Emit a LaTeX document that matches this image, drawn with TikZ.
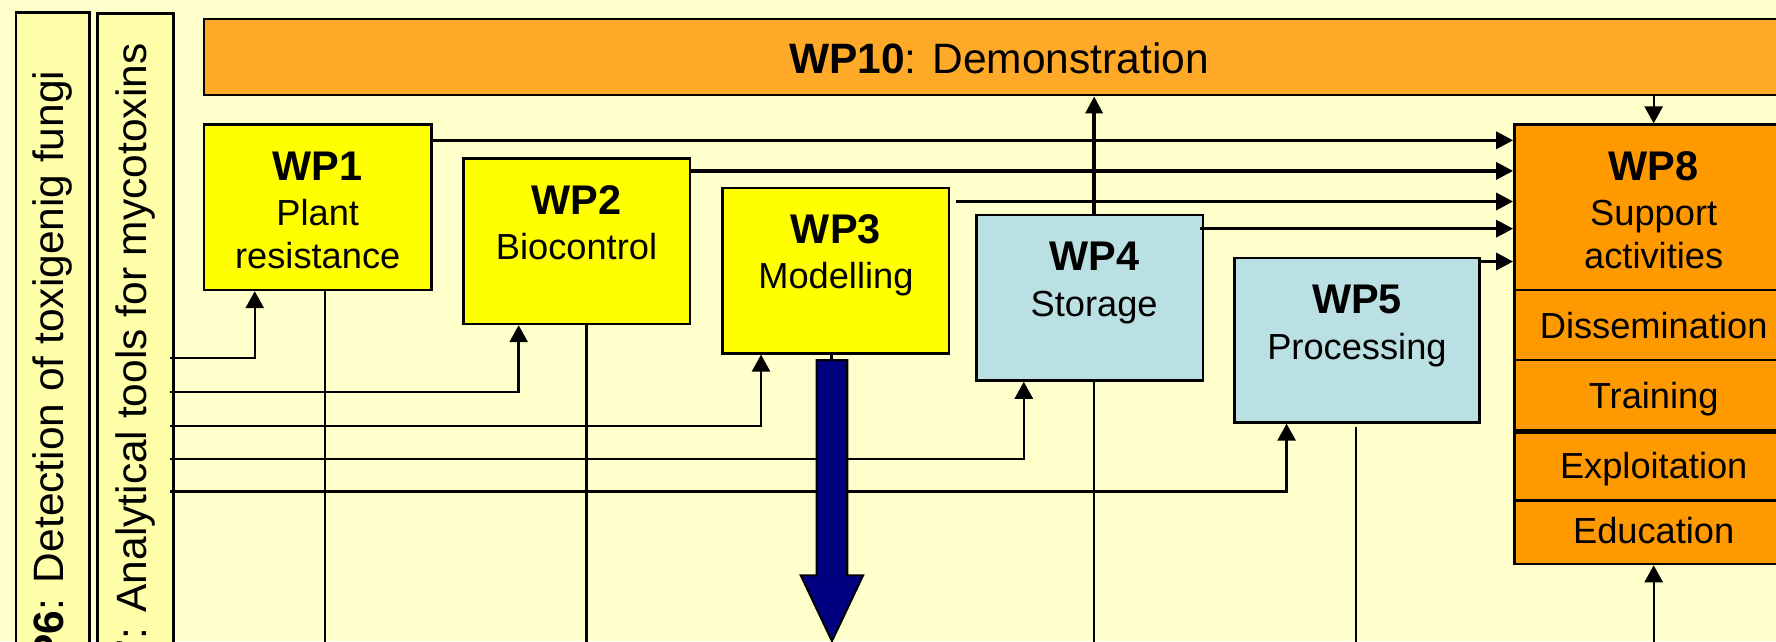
\documentclass[tikz,border=0pt]{standalone}
\usepackage{fontspec}
\setmainfont{Liberation Sans}
\usetikzlibrary{arrows.meta,calc,fit}
\definecolor{bg}{HTML}{FFFFCC}
\definecolor{colfill}{HTML}{FFFFAA}
\definecolor{barorange}{HTML}{FFA928}
\definecolor{wporange}{HTML}{FF9900}
\definecolor{wpyellow}{HTML}{FFFF00}
\definecolor{wpblue}{HTML}{BBE0E3}
\definecolor{navyblue}{HTML}{000080}
\begin{document}
\begin{tikzpicture}[x=0.5pt,y=-0.5pt,
  box/.style={draw=black, line width=1.1pt, inner sep=0pt},
  thinline/.style={draw=black, line width=1.05pt},
  arr/.style={thinline, -{Triangle[length=7.5pt,width=8pt]}},
  arrthick/.style={draw=black, line width=1.5pt, -{Triangle[length=7.5pt,width=7.5pt]}},
  t/.style={font=\fontsize{16}{19}\selectfont, inner sep=0pt, anchor=base},
  tb/.style={font=\fontsize{18.3}{22}\selectfont\bfseries, inner sep=0pt, anchor=base},
  big/.style={font=\fontsize{18.75}{22}\selectfont, inner sep=0pt},
  navyarrow/.style={fill=navyblue, draw=black, line width=0.9pt, line join=miter}]
\useasboundingbox (0,0) rectangle (1568,566);
\clip (0,0) rectangle (1568,566);
\fill[bg] (0,0) rectangle (1568,566);

% vertical columns
\node[box, fill=colfill, fit={(14,11) (79,620)}] (wp6) {};
\node[box, fill=colfill, fit={(86,12) (153,620)}] (wp7) {};
\node[big, rotate=90, anchor=east] (wp6t) at (46.5,62) {\textbf{WP6}: Detection of toxigenig fungi};
\node[big, rotate=90, anchor=east] (wp7t) at (119.5,38) {\textbf{WP7}: Analytical tools for mycotoxins};

% WP10 bar
\node[box, fill=barorange, fit={(180,17) (1620,84)}] (wp10) {};
\node[big, anchor=base] (wp10t) at (882,65) {\textbf{WP10}: Demonstration};

% WP boxes
\node[box, fill=wpyellow, fit={(180,110) (381,256)}] (wp1) {};
\node[box, fill=wpyellow, fit={(409,140) (609,286)}] (wp2) {};
\node[box, fill=wpyellow, fit={(638,166) (838,312)}] (wp3) {};
\node[box, fill=wpblue, fit={(862,190) (1062,336)}] (wp4) {};
\node[box, fill=wpblue, fit={(1090,228) (1306,373)}] (wp5) {};

\node[tb] (wp1a) at (280.5,159) {WP1};
\node[t]  (wp1b) at (280.5,199) {Plant};
\node[t]  (wp1c) at (280.5,237) {resistance};
\node[tb] (wp2a) at (509,189) {WP2};
\node[t]  (wp2b) at (509,229) {Biocontrol};
\node[tb] (wp3a) at (738,215) {WP3};
\node[t]  (wp3b) at (738,255) {Modelling};
\node[tb] (wp4a) at (966,239) {WP4};
\node[t]  (wp4b) at (966,279) {Storage};
\node[tb] (wp5a) at (1198,277) {WP5};
\node[t]  (wp5b) at (1198,317) {Processing};

% WP8 stack
\node[box, fill=wporange, fit={(1337,110) (1583,256)}] (wp8) {};
\node[box, fill=wporange, fit={(1337,256) (1583,318)}] (dis) {};
\node[box, fill=wporange, fit={(1337,318) (1583,380)}] (tra) {};
\node[box, fill=wporange, fit={(1337,380) (1583,442)}] (expl) {};
\node[box, fill=wporange, fit={(1337,442) (1583,498)}] (edu) {};
\draw[line width=2.2pt] (tra.south west) -- (tra.south east);
\node[tb] (wp8a) at (1460,159) {WP8};
\node[t]  (wp8b) at (1460,199) {Support};
\node[t]  (wp8c) at (1460,237) {activities};
\node[t]  (dist) at (1460,298.5) {Dissemination};
\node[t]  (trat) at (1460,360.5) {Training};
\node[t]  (expt) at (1460,422.5) {Exploitation};
\node[t]  (edut) at (1460,480) {Education};

% bottom edge reference
\coordinate (bot) at (0,575);
\coordinate (c8) at (1460,0);

% arrows into WP8
\coordinate (r1) at ($(wp1.north east)+(0,15)$);
\coordinate (r2) at ($(wp2.north east)+(0,12)$);
\coordinate (r3) at ($(wp3.north east)+(5,13)$);
\coordinate (r4) at ($(wp4.north east)+(-4,13)$);
\coordinate (r5) at ($(wp5.north east)+(0,4)$);
\foreach \r in {r1,r2,r3,r4,r5}
  \draw[arrthick] (\r) -- (\r -| wp8.west);

% WP4 up to WP10 and down
\coordinate (w4x) at ($(wp4.north)+(4,0)$);
\draw[arrthick] (w4x) -- (w4x |- wp10.south);
\draw[thinline] ($(wp4.south)+(4,-2)$) coordinate (w4d) -- (w4d |- bot);

% WP10 -> WP8, bottom -> WP8
\draw[arr] (c8 |- wp10.south) -- (c8 |- wp8.north);
\draw[arr] (c8 |- bot) -- (c8 |- edu.south);

% inputs from the left
\coordinate (in1) at (150,316);
\coordinate (in2) at (150,346);
\coordinate (in3) at (150,376);
\coordinate (in4) at (150,405);
\coordinate (in5) at (150,434);
\draw[arr] (in1) -| ($(wp1.south west)+(46,0)$);
\draw[arr] (in2) -| ($(wp2.south west)+(50,0)$);
\draw[arr] (in3) -| ($(wp3.south west)+(35,0)$);
\draw[arr] (in4) -| ($(wp4.south west)+(43,0)$);
\draw[arr] (in5) -| ($(wp5.south west)+(47,0)$);

% outputs downward
\draw[thinline] ($(wp1.south west)+(108,0)$) coordinate (o1) -- (o1 |- bot);
\draw[thinline] ($(wp2.south west)+(110,0)$) coordinate (o2) -- (o2 |- bot);
\draw[thinline] ($(wp5.south west)+(108,3)$) coordinate (o5) -- (o5 |- bot);

% WP3 block arrow
\draw[thinline] ($(wp3.south)+(-4,0)$) coordinate (o3) -- ++(0,6);
\draw[navyarrow] (721,318) -- (748,318) -- (748,508) -- (762,508) -- (734.5,566) -- (707,508) -- (721,508) -- cycle;
\end{tikzpicture}
\end{document}
